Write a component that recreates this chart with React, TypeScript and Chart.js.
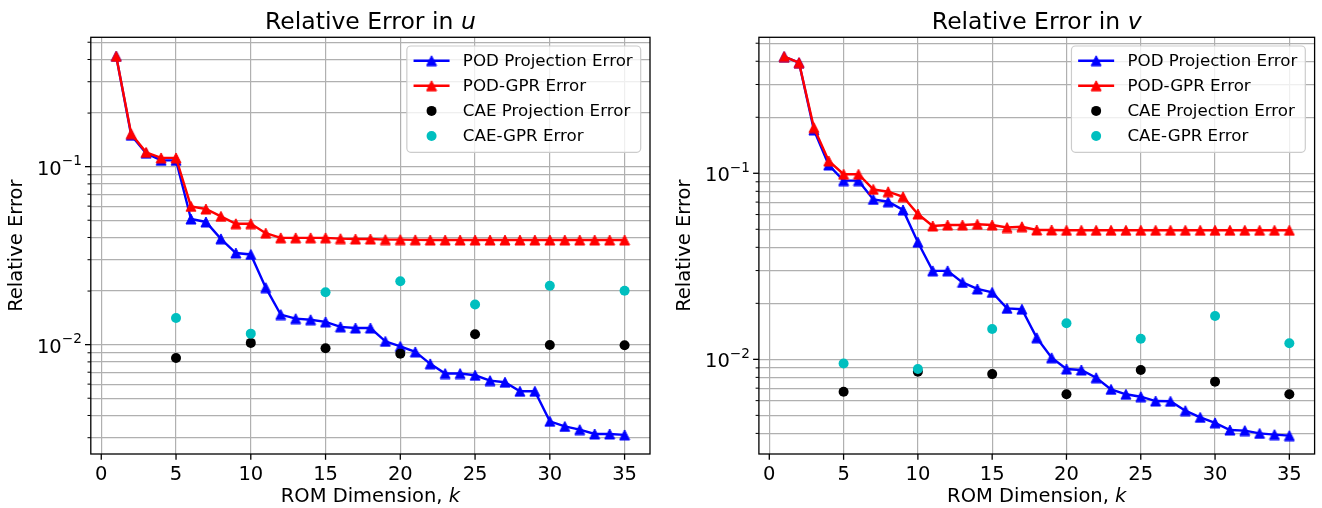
import React, { useEffect, useRef } from "react";
import { Chart, registerables } from "chart.js";

Chart.register(...registerables);

// ---------- data ----------
const romDims = [1, 2, 3, 4, 5, 6, 7, 8, 9, 10, 11, 12, 13, 14, 15, 16, 17, 18, 19, 20, 21, 22, 23, 24, 25, 26, 27, 28, 29, 30, 31, 32, 33, 34, 35];
const caeDims = [5, 10, 15, 20, 25, 30, 35];

const podProjectionU = [0.417, 0.15, 0.119, 0.1085, 0.1085, 0.0508, 0.0489, 0.0393, 0.0327, 0.0321, 0.0209, 0.01476, 0.014, 0.0138, 0.01342, 0.01259, 0.0124, 0.0124, 0.01044, 0.00977, 0.0091, 0.0078, 0.00688, 0.00688, 0.00673, 0.00628, 0.00615, 0.00547, 0.00547, 0.00371, 0.00347, 0.00333, 0.00315, 0.00315, 0.00311];
const podGprU = [0.417, 0.153, 0.1203, 0.112, 0.112, 0.0598, 0.0578, 0.0526, 0.0478, 0.0478, 0.0423, 0.0398, 0.0398, 0.0398, 0.0398, 0.0394, 0.0392, 0.0392, 0.0389, 0.0389, 0.0388, 0.0387, 0.0387, 0.0387, 0.0387, 0.0387, 0.0387, 0.0387, 0.0387, 0.0387, 0.0387, 0.0387, 0.0387, 0.0387, 0.0387];
const caeProjectionU = [0.00841, 0.01023, 0.00955, 0.0089, 0.01143, 0.00996, 0.00993];
const caeGprU = [0.01412, 0.01153, 0.0197, 0.0227, 0.0168, 0.0214, 0.0201];

const podProjectionV = [0.424, 0.393, 0.171, 0.1108, 0.0913, 0.0913, 0.0724, 0.0703, 0.0635, 0.0426, 0.0299, 0.0299, 0.0259, 0.0239, 0.0229, 0.0188, 0.0186, 0.01306, 0.0102, 0.00887, 0.00877, 0.00797, 0.0069, 0.00649, 0.0063, 0.00597, 0.00595, 0.0053, 0.00488, 0.00456, 0.00417, 0.00414, 0.004, 0.00394, 0.00389];
const podGprV = [0.424, 0.393, 0.176, 0.1164, 0.0988, 0.0988, 0.082, 0.0796, 0.0748, 0.0604, 0.0521, 0.0527, 0.0527, 0.0532, 0.0527, 0.0511, 0.0516, 0.0496, 0.0496, 0.0494, 0.0494, 0.0494, 0.0494, 0.0494, 0.0494, 0.0494, 0.0494, 0.0494, 0.0494, 0.0494, 0.0494, 0.0494, 0.0494, 0.0494, 0.0494];
const caeProjectionV = [0.0067, 0.00858, 0.00833, 0.0065, 0.00877, 0.00759, 0.0065];
const caeGprV = [0.0095, 0.00887, 0.01456, 0.01563, 0.0129, 0.0171, 0.0122];

const xTickValues = [0, 5, 10, 15, 20, 25, 30, 35];
const yMajorTickValues = [0.001, 0.01, 0.1, 1];
const yMajorTickExponents = ["\u22123", "\u22122", "\u22121", "0"];
const yMinorTickValues = [0.002, 0.003, 0.004, 0.005, 0.006, 0.007, 0.008, 0.009, 0.02, 0.03, 0.04, 0.05, 0.06, 0.07, 0.08, 0.09, 0.2, 0.3, 0.4, 0.5, 0.6, 0.7, 0.8, 0.9];

const legendLabels = ["POD Projection Error", "POD-GPR Error", "CAE Projection Error", "CAE-GPR Error"];
const seriesColors = ["#0000ff", "#ff0000", "#000000", "#00bfbf"];
const titleText = "Relative Error in ";
const titleVars = ["u", "v"];
const xLabelText = "ROM Dimension, ";
const xLabelVar = "k";
const yLabelText = "Relative Error";

// ---------- styling ----------
const FONT = '"DejaVu Sans", "Liberation Sans", sans-serif';
const TICK_PX = 19.5;
const SUP_PX = 13.6;
const LABEL_PX = 19.5;
const TITLE_PX = 23.5;
const LEGEND_PX = 16.7;
const GRID = "#b0b0b0";

function triangleImage(color: string): HTMLCanvasElement {
  const c = document.createElement("canvas");
  c.width = 12;
  c.height = 12;
  const g = c.getContext("2d")!;
  g.fillStyle = color;
  g.strokeStyle = color;
  g.lineWidth = 1;
  g.beginPath();
  g.moveTo(6, 1.0);
  g.lineTo(11.0, 11.0);
  g.lineTo(1.0, 11.0);
  g.closePath();
  g.fill();
  g.stroke();
  return c;
}

type Panel = {
  titleVar: string;
  yMin: number;
  yMax: number;
  padLeft: number;
  padRight: number;
  pod: number[];
  podGpr: number[];
  cae: number[];
  caeGpr: number[];
};

function decorPlugin(panel: Panel, tris: HTMLCanvasElement[]) {
  return {
    id: "mplDecor",
    afterDraw(chart: any) {
      const ctx = chart.ctx as CanvasRenderingContext2D;
      const a = chart.chartArea;
      const xs = chart.scales.x;
      const ys = chart.scales.y;
      const inY = (v: number) => v >= panel.yMin * 0.999 && v <= panel.yMax * 1.001;
      ctx.save();

      // spines
      ctx.strokeStyle = "#000";
      ctx.lineWidth = 1.3;
      ctx.strokeRect(a.left, a.top, a.right - a.left, a.bottom - a.top);

      // x ticks + labels
      ctx.fillStyle = "#000";
      ctx.font = `${TICK_PX}px ${FONT}`;
      ctx.textAlign = "center";
      ctx.textBaseline = "alphabetic";
      xTickValues.forEach((v) => {
        const px = xs.getPixelForValue(v);
        ctx.beginPath();
        ctx.moveTo(px, a.bottom);
        ctx.lineTo(px, a.bottom + 5.8);
        ctx.stroke();
        ctx.fillText(String(v), px, a.bottom + 25.5);
      });

      // y minor ticks
      ctx.lineWidth = 1.0;
      yMinorTickValues.filter(inY).forEach((v) => {
        const py = ys.getPixelForValue(v);
        ctx.beginPath();
        ctx.moveTo(a.left - 3.3, py);
        ctx.lineTo(a.left, py);
        ctx.stroke();
      });
      // y major ticks + labels
      ctx.lineWidth = 1.3;
      yMajorTickValues.forEach((v, i) => {
        if (!inY(v)) return;
        const py = ys.getPixelForValue(v);
        ctx.beginPath();
        ctx.moveTo(a.left - 5.8, py);
        ctx.lineTo(a.left, py);
        ctx.stroke();
        const right = a.left - 9;
        ctx.font = `${TICK_PX}px ${FONT}`;
        const wb = ctx.measureText("10").width;
        ctx.font = `${SUP_PX}px ${FONT}`;
        const we = ctx.measureText(yMajorTickExponents[i]).width;
        const x0 = right - wb - we;
        ctx.textAlign = "left";
        ctx.font = `${TICK_PX}px ${FONT}`;
        ctx.fillText("10", x0, py + 8);
        ctx.font = `${SUP_PX}px ${FONT}`;
        ctx.fillText(yMajorTickExponents[i], x0 + wb, py - 1.5);
      });

      // y label
      ctx.save();
      ctx.translate(a.left - 73.8, (a.top + a.bottom) / 2);
      ctx.rotate(-Math.PI / 2);
      ctx.font = `${LABEL_PX}px ${FONT}`;
      ctx.textAlign = "center";
      ctx.textBaseline = "middle";
      ctx.fillText(yLabelText, 0, 0);
      ctx.restore();

      // mixed text helper
      const mixed = (normal: string, ital: string, size: number, cx: number, baseY: number) => {
        ctx.textAlign = "left";
        ctx.textBaseline = "alphabetic";
        ctx.font = `${size}px ${FONT}`;
        const w1 = ctx.measureText(normal).width;
        ctx.font = `italic ${size}px ${FONT}`;
        const w2 = ctx.measureText(ital).width;
        const x0 = cx - (w1 + w2) / 2;
        ctx.font = `${size}px ${FONT}`;
        ctx.fillText(normal, x0, baseY);
        ctx.font = `italic ${size}px ${FONT}`;
        ctx.fillText(ital, x0 + w1, baseY);
      };
      const cx = (a.left + a.right) / 2;
      mixed(xLabelText, xLabelVar, LABEL_PX, cx, a.bottom + 47.5);
      mixed(titleText, panel.titleVar, TITLE_PX, cx, 29.3);

      // legend
      ctx.font = `${LEGEND_PX}px ${FONT}`;
      const tw = Math.max(...legendLabels.map((l) => ctx.measureText(l).width));
      const boxW = 56 + tw + 8;
      const boxH = 106.3;
      const boxRight = a.right - 9.3;
      const boxTop = a.top + 8.7;
      const boxLeft = boxRight - boxW;
      ctx.beginPath();
      (ctx as any).roundRect(boxLeft, boxTop, boxW, boxH, 4);
      ctx.fillStyle = "rgba(255,255,255,0.8)";
      ctx.fill();
      ctx.strokeStyle = "#cccccc";
      ctx.lineWidth = 1.2;
      ctx.stroke();
      legendLabels.forEach((lab, i) => {
        const cy = boxTop + 14.7 + i * 25.1;
        const hx = boxLeft + 24.7;
        if (i < 2) {
          ctx.strokeStyle = seriesColors[i];
          ctx.lineWidth = 2.4;
          ctx.beginPath();
          ctx.moveTo(boxLeft + 6.7, cy);
          ctx.lineTo(boxLeft + 42.7, cy);
          ctx.stroke();
          ctx.drawImage(tris[i], hx - 6, cy - 6);
        } else {
          ctx.fillStyle = seriesColors[i];
          ctx.beginPath();
          ctx.arc(hx, cy, 5, 0, Math.PI * 2);
          ctx.fill();
        }
        ctx.fillStyle = "#000";
        ctx.font = `${LEGEND_PX}px ${FONT}`;
        ctx.textAlign = "left";
        ctx.textBaseline = "middle";
        ctx.fillText(lab, boxLeft + 56, cy + 0.5);
      });

      ctx.restore();
    },
  };
}

function buildConfig(panel: Panel): any {
  const tris = [triangleImage(seriesColors[0]), triangleImage(seriesColors[1])];
  const gridOpts = { color: GRID, lineWidth: 1.2, drawTicks: false };
  return {
    type: "scatter",
    data: {
      datasets: [
        {
          label: legendLabels[0],
          data: romDims.map((k, i) => ({ x: k, y: panel.pod[i] })),
          showLine: true,
          borderColor: seriesColors[0],
          backgroundColor: seriesColors[0],
          borderWidth: 2.4,
          pointStyle: tris[0],
          pointRadius: 5,
          tension: 0,
          order: 4,
        },
        {
          label: legendLabels[1],
          data: romDims.map((k, i) => ({ x: k, y: panel.podGpr[i] })),
          showLine: true,
          borderColor: seriesColors[1],
          backgroundColor: seriesColors[1],
          borderWidth: 2.4,
          pointStyle: tris[1],
          pointRadius: 5,
          tension: 0,
          order: 3,
        },
        {
          label: legendLabels[2],
          data: caeDims.map((k, i) => ({ x: k, y: panel.cae[i] })),
          showLine: false,
          backgroundColor: seriesColors[2],
          borderColor: seriesColors[2],
          pointStyle: "circle",
          pointRadius: 5,
          pointBorderWidth: 0,
          order: 2,
        },
        {
          label: legendLabels[3],
          data: caeDims.map((k, i) => ({ x: k, y: panel.caeGpr[i] })),
          showLine: false,
          backgroundColor: seriesColors[3],
          borderColor: seriesColors[3],
          pointStyle: "circle",
          pointRadius: 5,
          pointBorderWidth: 0,
          order: 1,
        },
      ],
    },
    options: {
      responsive: false,
      animation: false,
      events: [],
      layout: { padding: { left: panel.padLeft, right: panel.padRight, top: 37.3, bottom: 54 } },
      plugins: { legend: { display: false }, tooltip: { enabled: false }, title: { display: false } },
      scales: {
        x: {
          type: "linear",
          min: -0.7,
          max: 36.7,
          ticks: { display: false },
          grid: gridOpts,
          border: { display: false },
          afterBuildTicks: (s: any) => {
            s.ticks = xTickValues.map((v) => ({ value: v }));
          },
          afterFit: (s: any) => {
            s.height = 0;
          },
        },
        y: {
          type: "logarithmic",
          min: panel.yMin,
          max: panel.yMax,
          ticks: { display: false },
          grid: gridOpts,
          border: { display: false },
          afterBuildTicks: (s: any) => {
            s.ticks = [...yMinorTickValues, ...yMajorTickValues]
              .filter((v) => v > panel.yMin && v < panel.yMax)
              .sort((p, q) => p - q)
              .map((v) => ({ value: v }));
          },
          afterFit: (s: any) => {
            s.width = 0;
          },
        },
      },
    },
    plugins: [decorPlugin(panel, tris)],
  };
}

const panels: Panel[] = [
  {
    titleVar: titleVars[0],
    yMin: 0.00243,
    yMax: 0.533,
    padLeft: 90.8,
    padRight: 11,
    pod: podProjectionU,
    podGpr: podGprU,
    cae: caeProjectionU,
    caeGpr: caeGprU,
  },
  {
    titleVar: titleVars[1],
    yMin: 0.0031,
    yMax: 0.538,
    padLeft: 97.9,
    padRight: 5.8,
    pod: podProjectionV,
    podGpr: podGprV,
    cae: caeProjectionV,
    caeGpr: caeGprV,
  },
];

export default function App() {
  const leftRef = useRef<HTMLCanvasElement>(null);
  const rightRef = useRef<HTMLCanvasElement>(null);

  useEffect(() => {
    document.body.style.margin = "0";
    const charts: Chart[] = [];
    if (leftRef.current) charts.push(new Chart(leftRef.current, buildConfig(panels[0])));
    if (rightRef.current) charts.push(new Chart(rightRef.current, buildConfig(panels[1])));
    return () => charts.forEach((c) => c.destroy());
  }, []);

  return (
    <div style={{ position: "absolute", left: 0, top: 0, width: 1322, height: 508, background: "#fff", display: "flex" }}>
      <div style={{ width: 661, height: 508 }}>
        <canvas ref={leftRef} width={661} height={508} style={{ display: "block" }} />
      </div>
      <div style={{ width: 661, height: 508 }}>
        <canvas ref={rightRef} width={661} height={508} style={{ display: "block" }} />
      </div>
    </div>
  );
}
